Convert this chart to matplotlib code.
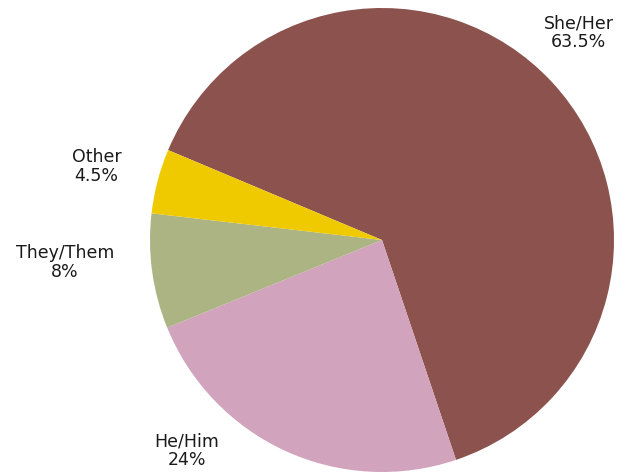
import matplotlib
matplotlib.use("Agg")
import matplotlib.pyplot as plt
import numpy as np

labels = ["She/Her", "He/Him", "They/Them", "Other"]
values = [63.5, 24, 8, 4.5]
pct_labels = ["63.5%", "24%", "8%", "4.5%"]
colors = ["#8C524D", "#D1A3BC", "#ADB484", "#F0CA00"]

W, H = 619, 472
fig = plt.figure(figsize=(W / 100, H / 100), dpi=100)
ax = fig.add_axes([0, 0, 1, 1])

cx, cy, r = 382, H - 240, 232
ax.pie(values, colors=colors, startangle=157.2, counterclock=False,
       center=(cx, cy), radius=r, frame=True,
       wedgeprops=dict(linewidth=0))
ax.set_xlim(0, W)
ax.set_ylim(0, H)
ax.set_aspect("equal")
ax.axis("off")

# label placement (angle in degrees, distance in radii)
label_pos = [(46.5, 1.23), (227.2, 1.24), (184.0, 1.37), (165.6, 1.27)]
for lab, pct, (ang, d) in zip(labels, pct_labels, label_pos):
    a = np.deg2rad(ang)
    x = cx + d * r * np.cos(a)
    y = cy + d * r * np.sin(a)
    ax.text(x, y, f"{lab}\n{pct}", ha="center", va="center",
            fontsize=12.5, family=["DejaVu Sans"], color="#1a1a1a",
            linespacing=1.05)

fig.savefig("out.png", dpi=100, facecolor="white")
